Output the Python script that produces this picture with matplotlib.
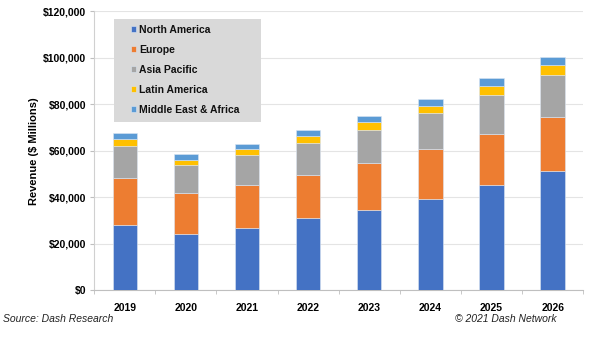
import numpy as np
import matplotlib
matplotlib.use("Agg")
from matplotlib import pyplot as plt
from matplotlib.patches import Rectangle
from matplotlib.ticker import FuncFormatter

plt.rcParams['font.family'] = ['Liberation Sans', 'DejaVu Sans']

years = ['2019', '2020', '2021', '2022', '2023', '2024', '2025', '2026']
regions = ['North America', 'Europe', 'Asia Pacific', 'Latin America', 'Middle East & Africa']
north_america = [28000, 24200, 27000, 30900, 34600, 39400, 45100, 51100]
europe = [20500, 17500, 18200, 18900, 20100, 21200, 22100, 23400]
asia_pacific = [13600, 12100, 12900, 13500, 14300, 15600, 16900, 18200]
latin_america = [3000, 2400, 2500, 3200, 3200, 3200, 3700, 4000]
mid_east_africa = [2600, 2300, 2500, 2500, 2800, 3000, 3300, 3600]
colors = ['#4472C4', '#ED7D31', '#A5A5A5', '#FFC000', '#5B9BD5']

fig = plt.figure(figsize=(6, 3.4), dpi=100)
ax = fig.add_axes([0.157, 0.146, 0.815, 0.821])

x = np.arange(len(years))
bottom = np.zeros(len(years))
for name, vals, c in zip(regions, [north_america, europe, asia_pacific, latin_america, mid_east_africa], colors):
    ax.bar(x, vals, 0.4, bottom=bottom, color=c, label=name, zorder=3,
           edgecolor='#dce6f2', linewidth=0.4)
    bottom += np.array(vals)

ax.set_xlim(-0.5, len(years) - 0.5)
ax.set_ylim(0, 120000)
ax.set_yticks(np.arange(0, 120001, 20000))
ax.yaxis.set_major_formatter(FuncFormatter(lambda v, p: '${:,.0f}'.format(v)))
ax.set_xticks(x)
ax.set_xticklabels(years)
ax.set_xticks(np.arange(-0.5, len(years)), minor=True)
ax.tick_params(axis='x', which='major', length=0, pad=9)
ax.tick_params(axis='x', which='minor', length=3, color='#bfbfbf')
ax.tick_params(axis='y', length=3, color='#bfbfbf', pad=3)
for lab in ax.get_xticklabels() + ax.get_yticklabels():
    lab.set_fontweight('bold')
    lab.set_fontsize(7.5)

ax.grid(axis='y', color='#e4e4e4', linewidth=0.8, zorder=0)
for s in ['top', 'right']:
    ax.spines[s].set_visible(False)
ax.spines['left'].set_color('#d0d0d0')
ax.spines['bottom'].set_color('#bfbfbf')

ax.set_ylabel('Revenue ($ Millions)', fontsize=8, fontweight='bold', labelpad=3)

# grey legend panel
box = Rectangle((114 / 600, 1 - 122 / 340), 147 / 600, 103 / 340, transform=fig.transFigure,
                facecolor='#d9d9d9', edgecolor='none', zorder=4)
ax.add_patch(box)
box.set_clip_on(False)

leg = ax.legend(loc='upper left', bbox_to_anchor=(131 / 600, 1 - 25 / 340),
                bbox_transform=fig.transFigure, frameon=False,
                prop={'weight': 'bold', 'size': 7.5}, handlelength=0.45, handleheight=0.45,
                handletextpad=0.35, labelspacing=0.95, borderpad=0, borderaxespad=0)
leg.set_zorder(5)
for lt in leg.get_texts():
    lt.set_color('#111111')

fig.text(0.005, 0.052, 'Source: Dash Research', fontsize=7.5, style='italic', color='#222222')
fig.text(0.928, 0.052, '\u00a9 2021 Dash Network', fontsize=7.5, style='italic', color='#222222', ha='right')

fig.savefig('out.png', dpi=100)
